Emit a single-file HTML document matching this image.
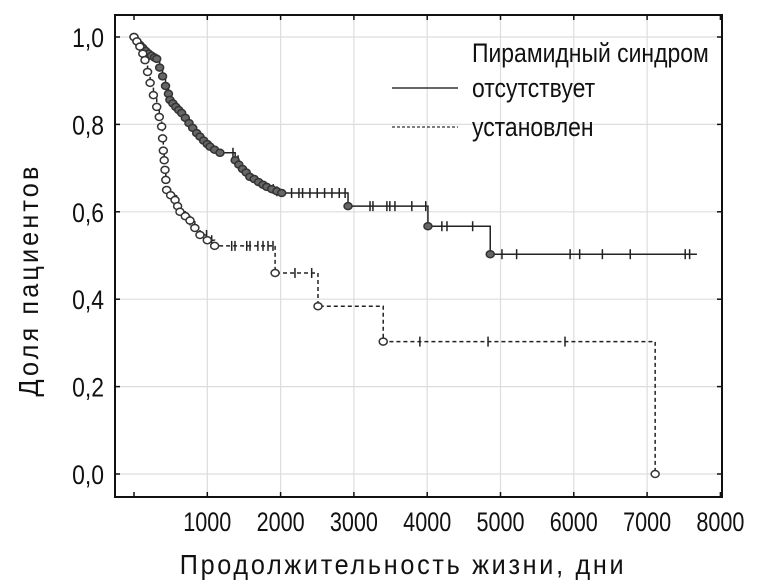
<!DOCTYPE html>
<html><head><meta charset="utf-8"><style>
html,body{margin:0;padding:0;background:#fff;}
svg{display:block;}
text{font-family:"Liberation Sans",sans-serif;fill:#111;}
</style></head><body>
<svg id="chart" width="758" height="587" viewBox="0 0 758 587">
<g id="grid"></g>
<g id="axes"></g>
<g id="series"></g>
<g id="legend">
<text transform="translate(472,62) scale(0.85,1)" font-size="27">Пирамидный синдром</text>
<line x1="392" y1="88" x2="458" y2="88" stroke="#333" stroke-width="1.5"/>
<text transform="translate(472,97) scale(0.85,1)" font-size="27">отсутствует</text>
<line x1="392" y1="127" x2="458" y2="127" stroke="#333" stroke-width="1.3" stroke-dasharray="3,2"/>
<text transform="translate(472,136) scale(0.85,1)" font-size="27">установлен</text>
</g>
<text transform="translate(403,574) scale(0.9,1)" font-size="28" text-anchor="middle" letter-spacing="3">Продолжительность жизни, дни</text>
<text transform="translate(38,280) rotate(-90) scale(0.9,1)" font-size="28" text-anchor="middle" letter-spacing="3.5">Доля пациентов</text>
</svg>
<script>
const xTicks=[0,1000,2000,3000,4000,5000,6000,7000,8000];
const xTickLabels=["","1000","2000","3000","4000","5000","6000","7000","8000"];
const yTicks=[0,0.2,0.4,0.6,0.8,1.0];
const yTickLabels=["0,0","0,2","0,4","0,6","0,8","1,0"];
const absentTimes=[0,40,80,120,160,200,240,280,310,350,390,430,470,490,530,570,610,650,700,750,800,855,900,950,1000,1037,1100,1173,1380,1430,1480,1530,1580,1640,1700,1760,1810,1880,1950,2015,2920,4010,4860,7680];
const absentSurv=[1.0,0.99,0.982,0.975,0.968,0.962,0.957,0.953,0.95,0.93,0.91,0.888,0.87,0.856,0.848,0.84,0.833,0.826,0.815,0.803,0.792,0.78,0.772,0.763,0.755,0.749,0.742,0.735,0.718,0.708,0.698,0.69,0.68,0.675,0.668,0.662,0.657,0.652,0.647,0.643,0.613,0.567,0.503,0.503];
const absentCensor=[1350,1420,1900,1950,2150,2250,2300,2400,2500,2600,2700,2800,2880,3220,3260,3450,3490,3560,3790,3980,4200,4270,4620,5020,5220,5950,6080,6390,6770,7520,7580];
const estTimes=[0,40,80,120,150,185,220,265,310,345,377,390,400,412,423,434,445,500,560,595,627,700,764,830,900,1000,1100,1925,2510,3400,7110];
const estSurv=[1.0,0.99,0.978,0.962,0.947,0.92,0.895,0.867,0.84,0.817,0.795,0.768,0.74,0.718,0.696,0.673,0.65,0.638,0.627,0.613,0.60,0.59,0.58,0.563,0.547,0.535,0.522,0.46,0.384,0.303,0.0];
const estCensor=[580,764,990,1060,1333,1378,1538,1583,1690,1760,1828,1896,2196,2424,3900,4830,5880];
const NS="http://www.w3.org/2000/svg";
const L=115,R=722,T=15,B=497;
function xs(d){return 134+d*0.0733;}
function ys(v){return 474-v*437;}
function mk(tag,attrs,parent){const e=document.createElementNS(NS,tag);for(const k in attrs)e.setAttribute(k,attrs[k]);parent.appendChild(e);return e;}
const grid=document.getElementById('grid'),axes=document.getElementById('axes'),series=document.getElementById('series');
xTicks.forEach((t,i)=>{
 if(t>0&&t<8000){const g=mk('line',{x1:xs(t),x2:xs(t),y1:T,y2:B,stroke:'#ddd','stroke-width':1.2},grid);
 
 }
 const a=mk('line',{x1:xs(t),x2:xs(t),y1:B,y2:B-5,stroke:'#111','stroke-width':1.5},axes);
 
 
 const b=mk('line',{x1:xs(t),x2:xs(t),y1:T,y2:T+5,stroke:'#111','stroke-width':1.5},axes);
 
 
 if(xTickLabels[i]){const tx=mk('text',{transform:'translate('+xs(t)+',531) scale(0.8,1)','font-size':27,'text-anchor':'middle'},axes);tx.textContent=xTickLabels[i];
 
 }
});
yTicks.forEach((t,i)=>{
 const g=mk('line',{x1:L,x2:R,y1:ys(t),y2:ys(t),stroke:'#ddd','stroke-width':1.2},grid);
 
 
 const a=mk('line',{x1:L,x2:L+5,y1:ys(t),y2:ys(t),stroke:'#111','stroke-width':1.5},axes);
 
 
 const b=mk('line',{x1:R,x2:R-5,y1:ys(t),y2:ys(t),stroke:'#111','stroke-width':1.5},axes);
 
 
 const tx=mk('text',{transform:'translate(104,'+(ys(t)+10)+') scale(0.85,1)','font-size':27,'text-anchor':'end'},axes);tx.textContent=yTickLabels[i];
 
 
});
const frame=mk('rect',{x:L,y:T,width:R-L,height:B-T,fill:'none',stroke:'#111','stroke-width':2},axes);


function survAt(times,surv,d){let v=surv[0];for(let i=0;i<times.length;i++){if(times[i]<=d)v=surv[i];}return v;}
function drawSeries(times,surv,censor,dash,name,fill){
 let d='M'+xs(times[0])+','+ys(surv[0]);
 for(let i=1;i<times.length;i++){d+=' H'+xs(times[i])+' V'+ys(surv[i]);}
 const p=mk('path',{d:d,fill:'none',stroke:'#222','stroke-width':1.5},series);
 if(dash)p.setAttribute('stroke-dasharray','4,3');
 
 
 censor.forEach(c=>{
  const y=ys(survAt(times,surv,c));
  const m=mk('line',{x1:xs(c),x2:xs(c),y1:y-5,y2:y+5,stroke:'#222','stroke-width':1.5},series);
  
  
 });
 for(let i=0;i<times.length-(name==='absent'?1:0);i++){
  const c=mk('ellipse',{cx:xs(times[i]),cy:ys(surv[i]),rx:4,ry:3.5,fill:fill,stroke:'#333','stroke-width':1.5},series);
  
  
 }
}
drawSeries(absentTimes,absentSurv,absentCensor,false,'absent','#666');
drawSeries(estTimes,estSurv,estCensor,true,'established','#fff');
</script>
</body></html>
